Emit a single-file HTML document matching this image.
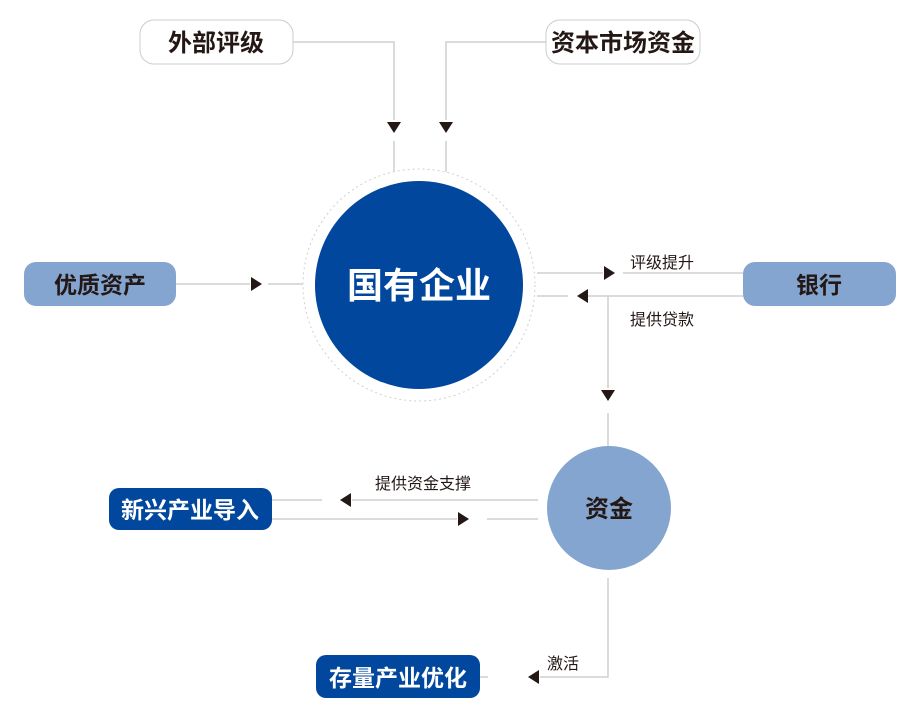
<!DOCTYPE html>
<html><head><meta charset="utf-8"><style>
html,body{margin:0;padding:0;background:#fff;}
svg{display:block;font-family:"Liberation Sans","Noto Sans CJK SC",sans-serif;}
</style></head><body>
<svg width="916" height="725" viewBox="0 0 916 725">
<g stroke="#cfcfcf" stroke-width="1.5" fill="none">
<polyline points="293,42 394,42 394,120"/><line x1="394" y1="141" x2="394" y2="172"/>
<polyline points="546,42 446,42 446,120"/><line x1="446" y1="141" x2="446" y2="172"/>
<line x1="176" y1="284" x2="250" y2="284"/><line x1="268" y1="284" x2="303" y2="284"/>
<line x1="537" y1="273" x2="603" y2="273"/><line x1="623" y1="273" x2="743" y2="273"/>
<line x1="743" y1="296" x2="588" y2="296"/><line x1="537" y1="296" x2="568" y2="296"/>
<polyline points="608,296 608,388"/><line x1="608" y1="413" x2="608" y2="446"/>
<line x1="538" y1="500" x2="352" y2="500"/><line x1="322" y1="500" x2="272" y2="500"/>
<line x1="272" y1="519" x2="457" y2="519"/><line x1="487" y1="519" x2="538" y2="519"/>
<polyline points="608,578 608,677 540,677"/><line x1="488" y1="677" x2="480" y2="677"/>
</g>
<g fill="#231815">
<polygon points="387,122 401,122 394,133"/>
<polygon points="439,122 453,122 446,133"/>
<polygon points="251,277 251,291 262,284"/>
<polygon points="604,266 604,280 615,273"/>
<polygon points="588,289 588,303 577,296"/>
<polygon points="601,390 615,390 608,401"/>
<polygon points="351,493 351,507 340,500"/>
<polygon points="458,512 458,526 469,519"/>
<polygon points="539,670 539,684 528,677"/>
</g>
<circle cx="419" cy="285" r="116" fill="none" stroke="#d0d0d0" stroke-width="1" stroke-dasharray="2,3"/>
<circle cx="419" cy="285" r="104" fill="#00479d"/>
<text x="419" y="298" font-size="36" font-weight="bold" fill="#fff" text-anchor="middle">国有企业</text>
<circle cx="609" cy="508" r="62" fill="#84a5cf"/>
<text x="609" y="517" font-size="24" font-weight="bold" fill="#231815" text-anchor="middle">资金</text>
<rect x="140" y="20" width="153" height="44" rx="14" fill="#fff" stroke="#cccccc"/>
<text x="216" y="51" font-size="24" font-weight="bold" fill="#231815" text-anchor="middle">外部评级</text>
<rect x="546" y="20" width="154" height="44" rx="14" fill="#fff" stroke="#cccccc"/>
<text x="623" y="51" font-size="24" font-weight="bold" fill="#231815" text-anchor="middle">资本市场资金</text>
<rect x="24" y="262" width="152" height="44" rx="12" fill="#84a5cf"/>
<text x="100" y="293" font-size="23" font-weight="bold" fill="#231815" text-anchor="middle">优质资产</text>
<rect x="743" y="262" width="153" height="44" rx="12" fill="#84a5cf"/>
<text x="819" y="293" font-size="23" font-weight="bold" fill="#231815" text-anchor="middle">银行</text>
<rect x="109" y="488" width="163" height="42" rx="10" fill="#00479d"/>
<text x="190" y="518" font-size="23" font-weight="bold" fill="#fff" text-anchor="middle">新兴产业导入</text>
<rect x="316" y="655" width="164" height="43" rx="10" fill="#00479d"/>
<text x="398" y="686" font-size="23" font-weight="bold" fill="#fff" text-anchor="middle">存量产业优化</text>
<g font-size="16" fill="#231815">
<text x="630" y="268">评级提升</text>
<text x="630" y="325">提供贷款</text>
<text x="375" y="489">提供资金支撑</text>
<text x="547" y="669">激活</text>
</g>
</svg>
</body></html>
